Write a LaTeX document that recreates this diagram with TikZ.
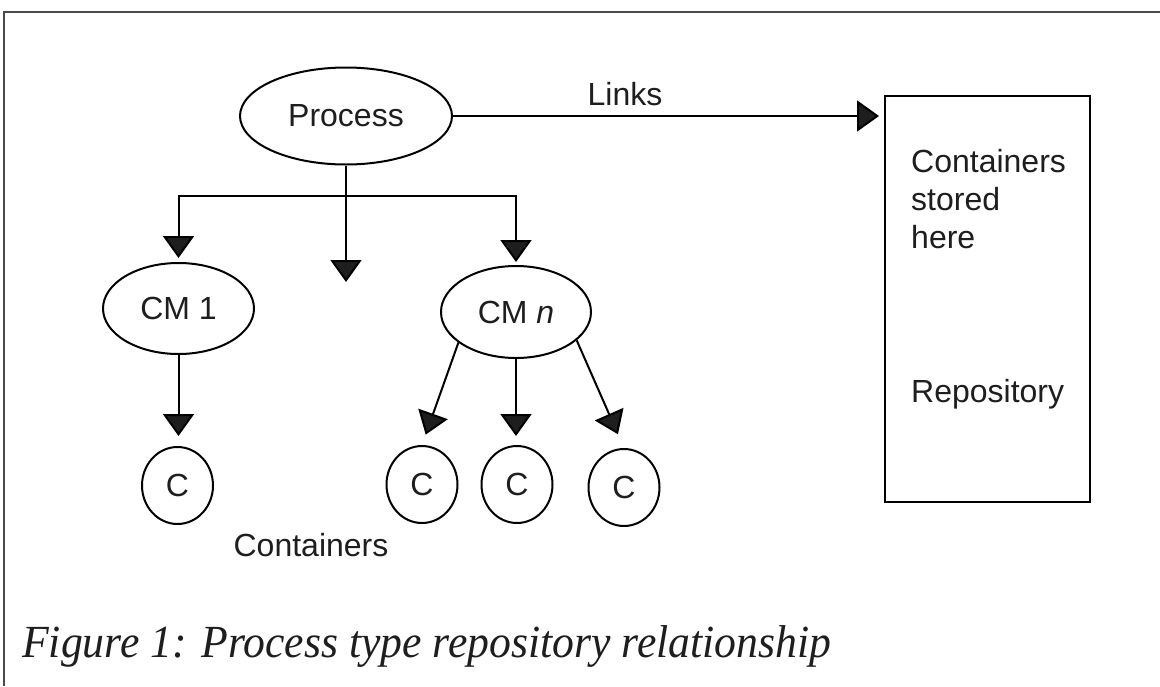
\documentclass[tikz,border=0pt]{standalone}
\usepackage{fontspec}
\setmainfont{Liberation Sans}
\newfontfamily\capfont{Liberation Serif}
\usetikzlibrary{shapes.geometric,arrows.meta}
\definecolor{ink}{HTML}{1E1E1E}
\definecolor{framec}{HTML}{4A4A4A}
\begin{document}
\begin{tikzpicture}[x=1pt,y=-1pt,
  every node/.style={text=ink,font=\fontsize{32}{38}\selectfont},
  oval/.style={draw=black,line width=2pt,ellipse,inner sep=0pt},
  cont/.style={draw=black,line width=2pt,ellipse,inner sep=0pt,minimum width=71pt,minimum height=77pt},
  conn/.style={draw=black,line width=2pt},
  arr/.style={conn,-{Triangle[length=22pt,width=31pt,fill=ink]}},
  lbl/.style={inner sep=0pt,anchor=base}]
\useasboundingbox (0,0) rectangle (1160,686);
\fill[white] (0,0) rectangle (1160,686);
\draw[framec,line width=2pt] (4,686) -- (4,12) -- (1160,12);

\node[oval,minimum width=212pt,minimum height=97pt] (proc) at (346,116) {Process};
\node[oval,minimum width=151pt,minimum height=91pt] (cm1) at (178.5,308.5) {CM 1};
\node[oval,minimum width=150pt,minimum height=92pt] (cmn) at (516,312) {CM \textit{n}};
\node[cont] (c1) at (177.5,485.5) {C};
\node[cont] (c2) at (422,484.5) {C};
\node[cont] (c3) at (517,484.5) {C};
\node[cont] (c4) at (624,487.5) {C};
\node[draw=black,line width=2pt,minimum width=205pt,minimum height=406pt,inner sep=0pt] (repo) at (987.5,299) {};

\node[lbl] (links) at (625,105) {Links};
\node[lbl] (conts) at (311,556) {Containers};
\node[inner sep=0pt,anchor=base west,align=left] (stored) at (911,248) {Containers\\stored\\here};
\node[inner sep=0pt,anchor=base west] (repolbl) at (911,402) {Repository};
\node[inner sep=0pt,anchor=base west,font=\capfont\itshape\fontsize{46}{50}\selectfont] (cap) at (22,657) {\scalebox{0.95}[1]{Figure 1: Process type repository relationship}};

\coordinate (j) at (346,196);
\coordinate (mid) at (346,282);
\draw[conn] (proc.south) -- (j);
\draw[arr,shorten >=4pt] (j) -| (cm1.north);
\draw[arr,shorten >=3pt] (j) -| (cmn.north);
\draw[arr] (j) -- (mid);
\draw[arr,shorten >=5pt] (proc.east) -- (proc.east -| repo.west);
\draw[arr,shorten >=10pt] (cm1.south) -- (cm1.south |- c1.north);
\draw[arr,shorten >=11pt] (cmn.208) -- (c2.north);
\draw[arr,shorten >=9pt] (cmn.south) -- (cmn.south |- c3.north);
\draw[arr,shorten >=15pt] (cmn.335) -- (c4.north);
\end{tikzpicture}
\end{document}
